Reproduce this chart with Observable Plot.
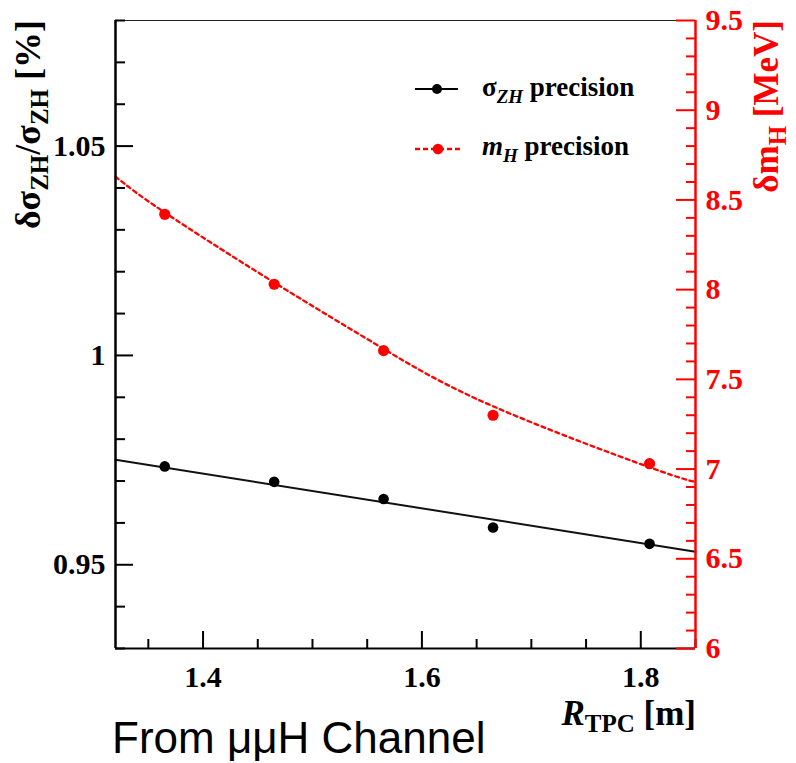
<!DOCTYPE html>
<html><head><meta charset="utf-8">
<script src="https://cdn.jsdelivr.net/npm/d3@7"></script>
<script src="https://cdn.jsdelivr.net/npm/@observablehq/plot@0.6"></script>
<style>
html,body{margin:0;padding:0;background:#fff;}
#wrap{position:relative;width:796px;height:763px;overflow:hidden;}
#caption{position:absolute;left:112px;top:716px;font-family:"Liberation Sans",Arial,sans-serif;font-size:44px;line-height:1;color:#000;white-space:nowrap;}
</style></head><body>
<div id="wrap"><div id="chart"></div><div id="caption">From μμH Channel</div></div>
<script>
// ---- data ----
const rTPC = [1.365, 1.465, 1.565, 1.665, 1.808];          // R_TPC [m]
const sigmaZH = [0.9735, 0.9698, 0.9657, 0.9589, 0.9550];   // δσ/σ [%]  (left axis)
const mH = [8.42, 8.03, 7.66, 7.30, 7.03];                  // δm_H [MeV] (right axis)
// fitted curves
const sigmaFitX = [1.32, 1.85];
const sigmaFitY = [0.9751, 0.9531];
const mHFitX = [1.32, 1.365, 1.465, 1.565, 1.665, 1.808, 1.85];
const mHFitY = [8.63, 8.43, 8.04, 7.67, 7.35, 7.01, 6.93];
// axes
const xDomain = [1.32, 1.85];
const yDomain = [0.93, 1.08];
const mDomain = [6, 9.5];
const xMajor = [1.4, 1.6, 1.8];
const xLabels = ["1.4", "1.6", "1.8"];
const xMinor = [1.35, 1.45, 1.5, 1.55, 1.65, 1.7, 1.75, 1.85];
const leftMajor = [0.95, 1.0, 1.05];
const leftLabels = ["0.95", "1", "1.05"];
const leftMinor = [0.93, 0.94, 0.96, 0.97, 0.98, 0.99, 1.01, 1.02, 1.03, 1.04, 1.06, 1.07, 1.08];
const rightMajor = [6, 6.5, 7, 7.5, 8, 8.5, 9, 9.5];
const rightLabels = ["6", "6.5", "7", "7.5", "8", "8.5", "9", "9.5"];
const rightMinor = d3.range(60, 96).filter(k => k % 5 !== 0).map(k => k / 10);

// ---- layout / style ----
const SERIF = '"Liberation Serif","Times New Roman",serif';
const RED = "#ff0000";
const W = 796, H = 763, mL = 115, mR = 101, mT = 20, mB = 115;
const frameW = W - mL - mR, frameH = H - mT - mB;
const toLeft = v => yDomain[0] + (v - mDomain[0]) * (yDomain[1] - yDomain[0]) / (mDomain[1] - mDomain[0]);

const sigmaPts = rTPC.map((x, i) => ({x, y: sigmaZH[i]}));
const mHPts = rTPC.map((x, i) => ({x, y: toLeft(mH[i])}));
const sigmaFit = sigmaFitX.map((x, i) => ({x, y: sigmaFitY[i]}));
const mHFit = mHFitX.map((x, i) => ({x, y: toLeft(mHFitY[i])}));
const xTickData = xMajor.map((v, i) => ({v, label: xLabels[i]}));
const leftTickData = leftMajor.map((v, i) => ({v, label: leftLabels[i]}));
const rightTickData = rightMajor.map((v, i) => ({v: toLeft(v), label: rightLabels[i]}));

const lab = {fontFamily: SERIF, fontWeight: "bold", fontSize: 30};

const plot = Plot.plot({
  width: W, height: H,
  marginLeft: mL, marginRight: mR, marginTop: mT, marginBottom: mB,
  x: {domain: xDomain, axis: null},
  y: {domain: yDomain, axis: null},
  style: {fontFamily: SERIF, background: "white", overflow: "visible"},
  marks: [
    Plot.line(sigmaFit, {x: "x", y: "y", stroke: "#111", strokeWidth: 2}),
    Plot.line(mHFit, {x: "x", y: "y", stroke: RED, strokeWidth: 2.3, strokeDasharray: "4,3.5", curve: "natural"}),
    Plot.dot(sigmaPts, {x: "x", y: "y", r: 5.3, fill: "#000", stroke: "none"}),
    Plot.dot(mHPts, {x: "x", y: "y", r: 5.6, fill: RED, stroke: "none"}),
    // frame
    Plot.ruleY([yDomain[1]], {stroke: "#222", strokeWidth: 1.2}),
    Plot.ruleY([yDomain[0]], {stroke: "#000", strokeWidth: 2.2}),
    Plot.ruleX([xDomain[0]], {stroke: "#000", strokeWidth: 2.5}),
    // bottom ticks (inward)
    Plot.tickX(xMajor, {x: d => d, insetTop: frameH - 17, stroke: "#000", strokeWidth: 2}),
    Plot.tickX(xMinor, {x: d => d, insetTop: frameH - 9, stroke: "#000", strokeWidth: 2}),
    // left ticks (inward)
    Plot.tickY(leftMajor, {y: d => d, insetRight: frameW - 18, stroke: "#000", strokeWidth: 2}),
    Plot.tickY(leftMinor, {y: d => d, insetRight: frameW - 10, stroke: "#000", strokeWidth: 2}),
    // right axis (red)
    Plot.tickY(rightMajor, {y: d => toLeft(d), insetLeft: frameW - 19, stroke: RED, strokeWidth: 2}),
    Plot.tickY(rightMinor, {y: d => toLeft(d), insetLeft: frameW - 9, stroke: RED, strokeWidth: 2}),
    Plot.ruleX([xDomain[1]], {stroke: RED, strokeWidth: 2.5}),
    // tick labels
    Plot.text(xTickData, {x: "v", text: "label", frameAnchor: "bottom", dy: 29, lineAnchor: "middle", fill: "#000", ...lab}),
    Plot.text(leftTickData, {y: "v", text: "label", frameAnchor: "left", dx: -10, textAnchor: "end", fill: "#000", ...lab}),
    Plot.text(rightTickData, {y: "v", text: "label", frameAnchor: "right", dx: 10, textAnchor: "start", fill: RED, ...lab})
  ]
});
document.getElementById("chart").appendChild(plot);

const svg = d3.select(plot);
// axis titles
const lt = svg.append("text").attr("transform", "translate(40,20) rotate(-90)")
  .attr("text-anchor", "end").attr("font-family", SERIF).attr("font-weight", "bold").attr("font-size", 36).attr("fill", "#000");
lt.append("tspan").text("δσ");
lt.append("tspan").attr("dy", 8).attr("font-size", 25).text("ZH");
lt.append("tspan").attr("dy", -8).text("/σ");
lt.append("tspan").attr("dy", 8).attr("font-size", 25).text("ZH");
lt.append("tspan").attr("dy", -8).text(" [%]");

const rt = svg.append("text").attr("transform", "translate(778,20) rotate(-90)")
  .attr("text-anchor", "end").attr("font-family", SERIF).attr("font-weight", "bold").attr("font-size", 35).attr("fill", RED);
rt.append("tspan").text("δm");
rt.append("tspan").attr("dy", 8).attr("font-size", 25).text("H");
rt.append("tspan").attr("dy", -8).text(" [MeV]");

const bt = svg.append("text").attr("x", 696).attr("y", 725)
  .attr("text-anchor", "end").attr("font-family", SERIF).attr("font-weight", "bold").attr("font-size", 35).attr("fill", "#000");
bt.append("tspan").attr("font-style", "italic").text("R");
bt.append("tspan").attr("dy", 7).attr("font-size", 25).text("TPC");
bt.append("tspan").attr("dy", -7).text(" [m]");

// legend
const lg = svg.append("g").attr("font-family", SERIF).attr("font-weight", "bold").attr("font-size", 27).attr("fill", "#000").attr("text-anchor", "start");
lg.append("line").attr("x1", 415).attr("x2", 458).attr("y1", 89).attr("y2", 89).attr("stroke", "#000").attr("stroke-width", 2);
lg.append("circle").attr("cx", 437).attr("cy", 89).attr("r", 5).attr("fill", "#000");
const t1 = lg.append("text").attr("x", 482).attr("y", 96).attr("text-anchor", "start");
t1.append("tspan").text("σ");
t1.append("tspan").attr("dy", 7).attr("font-size", 19).attr("font-style", "italic").text("ZH");
t1.append("tspan").attr("dy", -7).text(" precision");
lg.append("line").attr("x1", 415).attr("x2", 460).attr("y1", 149).attr("y2", 149).attr("stroke", RED).attr("stroke-width", 2.3).attr("stroke-dasharray", "5,3");
lg.append("circle").attr("cx", 438).attr("cy", 149).attr("r", 5.3).attr("fill", RED);
const t2 = lg.append("text").attr("x", 482).attr("y", 155).attr("text-anchor", "start");
t2.append("tspan").attr("font-style", "italic").text("m");
t2.append("tspan").attr("dy", 7).attr("font-size", 19).attr("font-style", "italic").text("H");
t2.append("tspan").attr("dy", -7).text(" precision");
</script>
</body></html>
